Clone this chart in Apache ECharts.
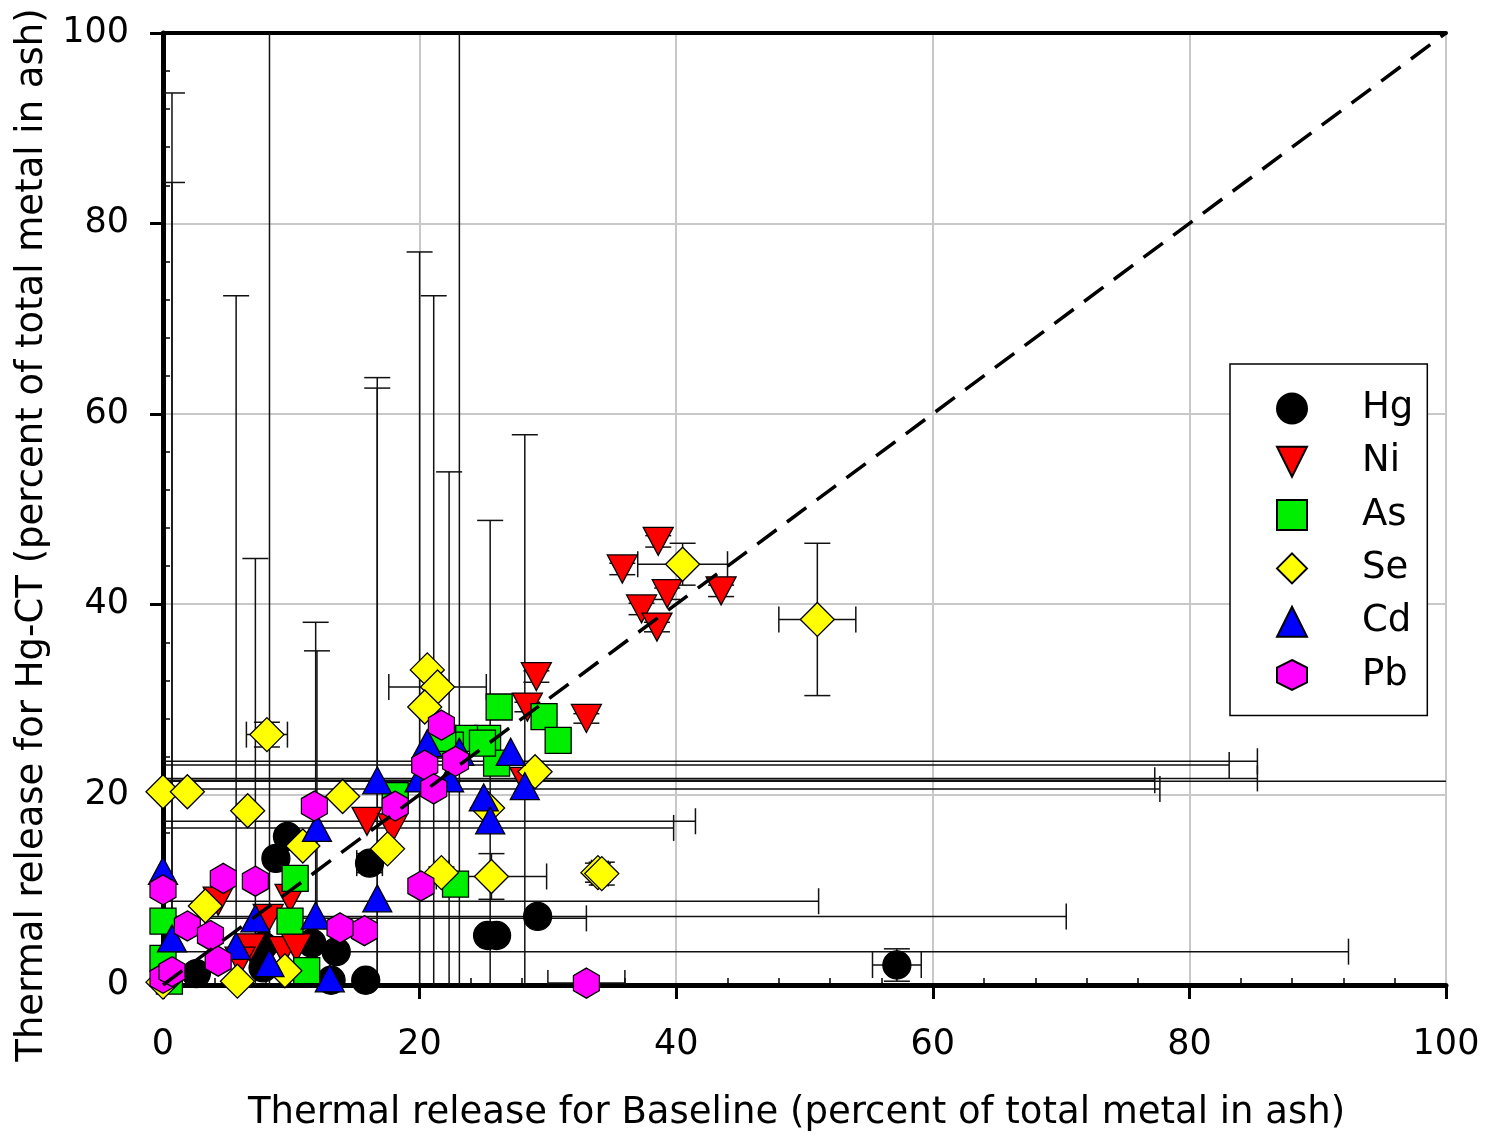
<!DOCTYPE html>
<html>
<head>
<meta charset="utf-8">
<script src="https://cdn.jsdelivr.net/npm/echarts@6/dist/echarts.min.js"></script>
<style>
  html, body { margin: 0; padding: 0; background: #fff; }
  #chart { width: 1489px; height: 1137px; }
</style>
</head>
<body>
<div id="chart"></div>
<script>
// each point: [baseline %, Hg-CT %, x error, y error]  (symmetric, 0 = none)
const hg = [
  [57.2, 2.1, 1.9, 1.7], [29.2, 7.2, 41.2, 0.5], [26.0, 5.2, 0, 0], [25.3, 5.2, 0, 0],
  [15.8, 0.5, 0, 0], [13.1, 0.5, 0, 0], [13.5, 3.5, 78.9, 0], [16.1, 12.8, 1.0, 1.0],
  [8.8, 13.3, 0, 0], [9.7, 15.6, 0, 0], [2.6, 1.2, 0, 0], [7.8, 4.1, 0, 0],
  [11.6, 4.4, 0, 0], [7.8, 1.8, 0, 0]
];
const ni = [
  [38.6, 46.6, 0, 0.6], [35.8, 43.7, 0, 0.6], [37.3, 39.5, 0, 0.6], [38.5, 37.6, 0, 0.5],
  [39.3, 41.1, 0, 0.6], [43.5, 41.4, 0, 0.6], [33.0, 28.0, 0, 0.5], [29.1, 32.4, 0, 0.6],
  [28.4, 29.2, 0, 0.5], [28.2, 21.4, 80, 0], [15.9, 17.2, 25.6, 0], [17.9, 16.5, 21.9, 0],
  [9.9, 9.1, 0, 0], [4.3, 8.8, 46.8, 0], [8.2, 7.0, 24.8, 0], [6.8, 3.9, 0, 0],
  [9.4, 3.6, 0, 0], [10.4, 3.9, 0, 0], [6.0, 2.5, 0, 0]
];
const as = [
  [26.2, 29.2, 0, 0], [29.7, 28.2, 0, 0], [30.8, 25.7, 0, 0], [25.3, 25.9, 0, 0],
  [26.0, 23.3, 0, 0], [23.5, 25.9, 0, 0], [24.9, 25.4, 0, 0], [22.4, 25.2, 0, 0],
  [21.8, 25.9, 0, 0], [18.1, 19.9, 0, 0], [22.8, 10.6, 0, 0], [10.3, 11.2, 0, 0],
  [9.9, 6.7, 0, 0], [0.0, 6.7, 0, 0], [0.0, 2.8, 0, 0], [0.5, 0.4, 0, 0],
  [11.2, 1.5, 0, 0]
];
const se = [
  [51.0, 38.4, 3.0, 8.0], [40.5, 44.2, 3.5, 2.2], [33.9, 11.8, 0.5, 1.0], [34.2, 11.7, 0.5, 1.2],
  [29.0, 22.4, 0, 0], [25.6, 11.4, 4.3, 2.4], [21.7, 11.8, 0.6, 0.6], [20.6, 33.1, 0, 0],
  [21.4, 31.3, 3.8, 0], [20.4, 29.2, 0, 0], [17.5, 14.3, 0, 0], [8.1, 26.3, 1.6, 1.3],
  [0.0, 20.3, 0, 0], [1.9, 20.3, 0, 0], [6.6, 18.3, 0, 0], [14.0, 19.8, 0, 0],
  [10.9, 14.6, 0, 0], [3.3, 8.3, 0, 0], [5.8, 0.4, 0, 0], [9.5, 1.5, 0, 0],
  [0.0, 0.3, 0, 0], [25.3, 18.6, 0, 0]
];
const cd = [
  [20.6, 25.4, 0, 0], [27.1, 24.5, 0, 0], [28.2, 20.9, 0, 36.9], [25.0, 19.7, 0, 0],
  [25.5, 17.3, 0, 31.5], [16.7, 21.5, 60.6, 42.3], [20.0, 21.7, 65.3, 55.3], [22.3, 21.7, 0, 32.2],
  [23.1, 24.5, 0, 85], [12.0, 16.5, 0, 18.6], [0.0, 12.0, 0, 0], [7.2, 7.0, 0, 37.8],
  [11.9, 7.3, 0, 30.8], [0.7, 4.9, 0, 88.8], [5.7, 4.1, 0, 68.3], [8.3, 2.3, 0, 108],
  [13.0, 0.7, 0, 0], [16.7, 9.1, 0, 53.6]
];
const pb = [
  [21.7, 27.3, 0, 0], [20.4, 23.1, 62.7, 0], [22.8, 23.5, 62.5, 0], [21.1, 20.6, 56.6, 51.8],
  [18.1, 18.8, 0, 0], [11.8, 18.8, 0, 0], [20.1, 10.4, 0, 0], [15.7, 5.7, 0, 0],
  [13.8, 6.0, 0, 0], [0.0, 10.0, 0, 0], [4.7, 11.2, 0, 0], [7.2, 10.9, 0, 0],
  [1.9, 6.2, 0, 0], [3.7, 5.2, 0, 0], [4.3, 2.5, 0, 0], [0.0, 0.7, 0, 0],
  [0.7, 1.4, 0, 82.9], [33.0, 0.2, 3.0, 0]
];
const oneToOne = [[0, 0], [100, 100]];

const FONT = 'DejaVu Sans';
const hexagon = 'path://M1,0 L2,0.5 L2,1.5 L1,2 L0,1.5 L0,0.5 Z';
const downTriangle = 'path://M0,0 L2,0 L1,2 Z';

// error bars with caps, drawn by a custom series
function errorBars(name, data) {
  return {
    type: 'custom',
    name: name + ' err',
    clip: true,
    silent: true,
    data: data,
    renderItem: function (params, api) {
      const x = api.value(0), y = api.value(1), ex = api.value(2), ey = api.value(3);
      const st = { stroke: '#111', lineWidth: 1.5 };
      const cap = 13;
      const kids = [];
      if (ex > 0) {
        const a = api.coord([x - ex, y]), b = api.coord([x + ex, y]);
        kids.push({ type: 'line', shape: { x1: a[0], y1: a[1], x2: b[0], y2: b[1] }, style: st });
        kids.push({ type: 'line', shape: { x1: a[0], y1: a[1] - cap, x2: a[0], y2: a[1] + cap }, style: st });
        kids.push({ type: 'line', shape: { x1: b[0], y1: b[1] - cap, x2: b[0], y2: b[1] + cap }, style: st });
      }
      if (ey > 0) {
        const a = api.coord([x, y - ey]), b = api.coord([x, y + ey]);
        kids.push({ type: 'line', shape: { x1: a[0], y1: a[1], x2: b[0], y2: b[1] }, style: st });
        kids.push({ type: 'line', shape: { x1: a[0] - cap, y1: a[1], x2: a[0] + cap, y2: a[1] }, style: st });
        kids.push({ type: 'line', shape: { x1: b[0] - cap, y1: b[1], x2: b[0] + cap, y2: b[1] }, style: st });
      }
      return { type: 'group', children: kids };
    }
  };
}

function points(name, data, symbol, size, color) {
  return {
    type: 'scatter',
    name: name,
    data: data,
    symbol: symbol,
    symbolSize: size,
    itemStyle: { color: color, borderColor: '#000', borderWidth: 1.3, opacity: 1 },
    emphasis: { disabled: true }
  };
}

const chart = echarts.init(document.getElementById('chart'));
chart.setOption({
  animation: false,
  backgroundColor: '#fff',
  grid: { left: 163, right: 43, top: 33, bottom: 150 },
  legend: {
    data: ['Hg', 'Ni', 'As', 'Se', 'Cd', 'Pb'],
    orient: 'vertical',
    left: 1230,
    top: 364,
    backgroundColor: '#fff',
    borderColor: '#000',
    borderWidth: 1.5,
    padding: [26, 14, 22, 46],
    itemWidth: 30,
    itemHeight: 30,
    itemGap: 16.3,
    selectedMode: false,
    textStyle: { fontFamily: FONT, fontSize: 37, color: '#000', padding: [0, 0, 0, 50] }
  },
  xAxis: [
    {
      type: 'value', min: 0, max: 100, interval: 20,
      name: 'Thermal release for Baseline (percent of total metal in ash)',
      nameLocation: 'middle', nameGap: 110,
      nameTextStyle: { fontFamily: FONT, fontSize: 37, color: '#000', padding: [0, 16, 0, 0] },
      axisLine: { lineStyle: { color: '#000', width: 5 } },
      axisTick: { inside: false, length: 14, lineStyle: { color: '#000', width: 3 } },
      axisLabel: { margin: 42, fontFamily: FONT, fontSize: 35, color: '#000' },
      splitLine: { show: true, lineStyle: { color: '#c8c8c8', width: 2 } }
    },
    {
      type: 'value', min: 0, max: 100, interval: 20, position: 'bottom',
      axisLine: { show: false },
      axisTick: { show: false, inside: true },
      minorTick: { show: true, splitNumber: 5, length: 7, lineStyle: { color: '#000', width: 1.5 } },
      axisLabel: { show: false },
      splitLine: { show: false }
    },
    {
      type: 'value', min: 0, max: 100, position: 'top',
      axisLine: { lineStyle: { color: '#000', width: 4 } },
      axisTick: { show: false }, axisLabel: { show: false }, splitLine: { show: false }
    }
  ],
  yAxis: [
    {
      type: 'value', min: 0, max: 100, interval: 20,
      name: 'Thermal release for Hg-CT (percent of total metal in ash)',
      nameLocation: 'middle', nameGap: 110,
      nameTextStyle: { fontFamily: FONT, fontSize: 37, color: '#000', padding: [0, 52, 0, 0] },
      axisLine: { lineStyle: { color: '#000', width: 5 } },
      axisTick: { inside: false, length: 13, lineStyle: { color: '#000', width: 3 } },
      axisLabel: { margin: 34, fontFamily: FONT, fontSize: 35, color: '#000' },
      splitLine: { show: true, lineStyle: { color: '#c8c8c8', width: 2 } }
    },
    {
      type: 'value', min: 0, max: 100, interval: 20, position: 'left',
      axisLine: { show: false },
      axisTick: { show: false, inside: true },
      minorTick: { show: true, splitNumber: 5, length: 7, lineStyle: { color: '#000', width: 1.5 } },
      axisLabel: { show: false },
      splitLine: { show: false }
    }
  ],
  series: [
    errorBars('Hg', hg),
    points('Hg', hg, 'circle', 28, '#000000'),
    errorBars('Ni', ni),
    points('Ni', ni, downTriangle, [30, 28], '#ff0000'),
    errorBars('As', as),
    points('As', as, 'rect', 26, '#00ee00'),
    errorBars('Se', se),
    points('Se', se, 'diamond', 34, '#ffff00'),
    errorBars('Cd', cd),
    points('Cd', cd, 'triangle', [29, 27], '#0000ff'),
    errorBars('Pb', pb),
    points('Pb', pb, hexagon, [26, 30], '#ff00ff'),
    {
      type: 'line',
      name: '1:1',
      data: oneToOne,
      symbol: 'none',
      silent: true,
      z: 5,
      lineStyle: { color: '#000', width: 3.5, type: [24, 13] }
    }
  ]
});
</script>
</body>
</html>
